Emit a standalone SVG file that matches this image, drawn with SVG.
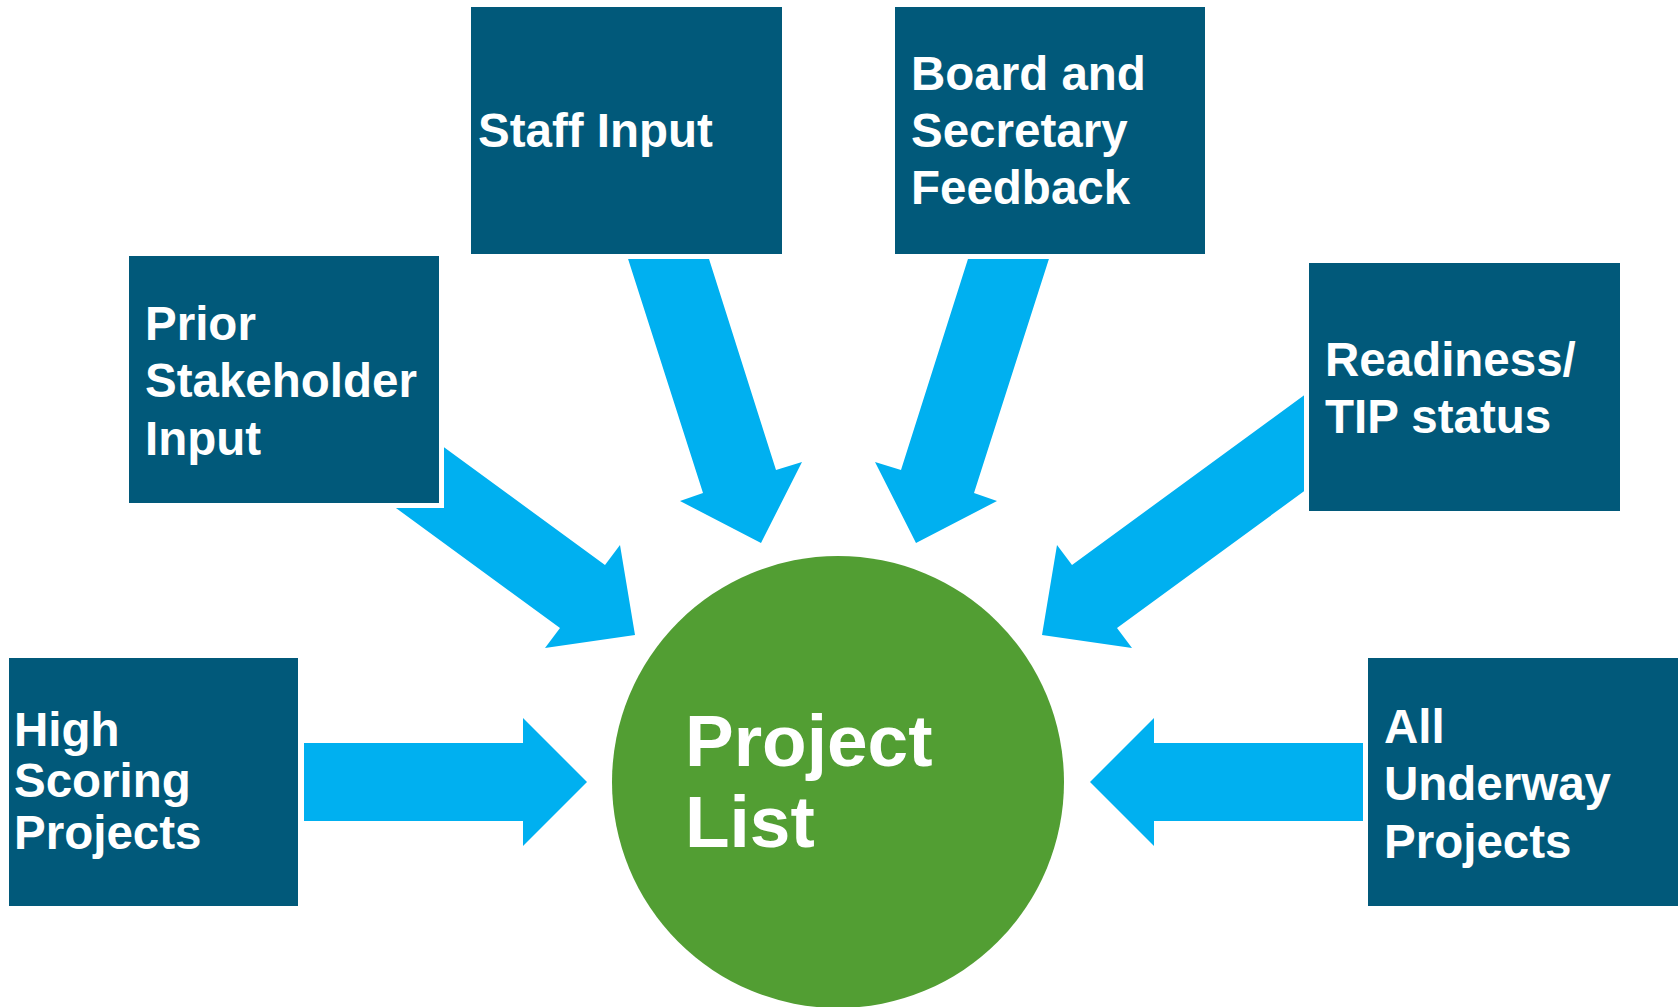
<svg xmlns="http://www.w3.org/2000/svg" width="1678" height="1007" viewBox="0 0 1678 1007">
<style>
.box{fill:#01597A;stroke:#FFFFFF;stroke-width:10;paint-order:stroke fill}
.arr{fill:#00B0F0}
.t{font-family:"Liberation Sans",Arial,sans-serif;font-weight:bold;font-size:47.5px;fill:#FFFFFF}
.big{font-family:"Liberation Sans",Arial,sans-serif;font-weight:bold;font-size:73px;fill:#FFFFFF}
</style>
<rect x="0" y="0" width="1678" height="1007" fill="#FFFFFF"/>
<g id="connectors">
<polygon class="arr" points="622,240 703,240 776,470 802,462 761,543 680,501 703,493"/>
<polygon class="arr" points="1055,240 974,240 901,470 875,462 916,543 997,501 974,493"/>
<polygon class="arr" points="318,451 560,628 545,648 635,635 620,545 605,565 363,388"/>
<polygon class="arr" points="1359,451 1117,628 1132,648 1042,635 1057,545 1072,565 1314,388"/>
<polygon class="arr" points="304,743 523,743 523,718 587,782 523,846 523,821 304,821"/>
<polygon class="arr" points="1373,743 1154,743 1154,718 1090,782 1154,846 1154,821 1373,821"/>
</g>
<g id="node-staff">
<rect class="box" x="471" y="7" width="311" height="247"/>
<text class="t" x="478" y="147">Staff Input</text>
</g>
<g id="node-board">
<rect class="box" x="895" y="7" width="310" height="247"/>
<text class="t" x="911" y="90">Board and</text>
<text class="t" x="911" y="147">Secretary</text>
<text class="t" x="911" y="204">Feedback</text>
</g>
<g id="node-prior">
<rect class="box" x="129" y="256" width="310" height="247"/>
<text class="t" x="145" y="340">Prior</text>
<text class="t" x="145" y="397">Stakeholder</text>
<text class="t" x="145" y="455">Input</text>
</g>
<g id="node-readiness">
<rect class="box" x="1309" y="263" width="311" height="248"/>
<text class="t" x="1325" y="376">Readiness/</text>
<text class="t" x="1325" y="433">TIP status</text>
</g>
<g id="node-high">
<rect class="box" x="9" y="658" width="289" height="248"/>
<text class="t" x="14" y="746">High</text>
<text class="t" x="14" y="797">Scoring</text>
<text class="t" x="14" y="849">Projects</text>
</g>
<g id="node-underway">
<rect class="box" x="1368" y="658" width="315" height="248"/>
<text class="t" x="1384" y="743">All</text>
<text class="t" x="1384" y="800">Underway</text>
<text class="t" x="1384" y="858">Projects</text>
</g>
<g id="node-project-list">
<circle cx="838" cy="782" r="226" fill="#529E33"/>
<text class="big" x="685" y="766">Project</text>
<text class="big" x="685" y="847">List</text>
</g>
</svg>
